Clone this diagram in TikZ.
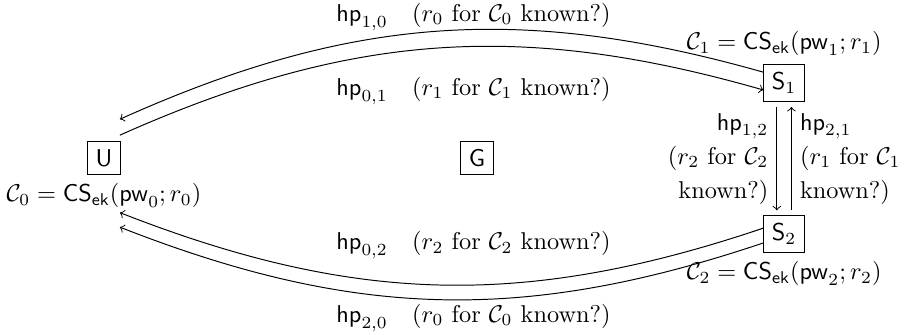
\documentclass[tikz,border=0pt]{standalone}
\usepackage{amsmath}
\usetikzlibrary{positioning}

\tikzset{party/.style={draw, inner sep=3.33pt}}

\begin{document}
\begin{tikzpicture}[>=to]
\useasboundingbox (-1.503,-2.558) rectangle (11.62,2.283);
% parties
\node[party] (U) at (0,0) {$\mathsf{U}$};
\node[party] (G) at (5.39,0) {$\mathsf{G}$};
\node[party] (S1) at (9.83,1.08) {$\mathsf{S}_1$};
\node[party] (S2) at (9.83,-1.1) {$\mathsf{S}_2$};
\node[below=0pt of U] (C0) {$\mathcal{C}_0 = \mathsf{CS}_{\mathsf{ek}}(\mathsf{pw}_0; r_0)$};
\node[above=0pt of S1] (C1) {$\mathcal{C}_1 = \mathsf{CS}_{\mathsf{ek}}(\mathsf{pw}_1; r_1)$};
\node[below=0pt of S2] (C2) {$\mathcal{C}_2 = \mathsf{CS}_{\mathsf{ek}}(\mathsf{pw}_2; r_2)$};
% free ends near U
\coordinate (u10) at (0.23,0.56);
\coordinate (u01) at (0.23,0.33);
\coordinate (u02) at (0.23,-0.79);
\coordinate (u20) at (0.23,-1.0);
% U -- S1
\draw[->] (S1.152) to[bend right=20] (u10);
\draw[->] (u01) to[bend left=20] (S1.198);
\node (hp10) at (5.34,2.04) {$\mathsf{hp}_{1,0}$\quad ($r_0$ for $\mathcal{C}_0$ known?)};
\node (hp01) at (5.34,0.97) {$\mathsf{hp}_{0,1}$\quad ($r_1$ for $\mathcal{C}_1$ known?)};
% U -- S2
\draw[->] (S2.164) to[bend left=20] (u02);
\draw[->] (S2.203) to[bend left=20] (u20);
\node (hp02) at (5.34,-1.26) {$\mathsf{hp}_{0,2}$\quad ($r_2$ for $\mathcal{C}_2$ known?)};
\node (hp20) at (5.34,-2.31) {$\mathsf{hp}_{2,0}$\quad ($r_0$ for $\mathcal{C}_0$ known?)};
% S1 -- S2
\draw[->, shorten >=2pt, shorten <=2pt] ([xshift=-3pt]S1.south) -- ([xshift=-3pt]S2.north)
  node[midway, left, align=right] (hp12) {$\mathsf{hp}_{1,2}$\\[2pt]($r_2$ for $\mathcal{C}_2$\\[2pt]known?)};
\draw[<-, shorten >=2pt, shorten <=2pt] ([xshift=3pt]S1.south) -- ([xshift=3pt]S2.north)
  node[midway, right, align=left] (hp21) {$\mathsf{hp}_{2,1}$\\[2pt]($r_1$ for $\mathcal{C}_1$\\[2pt]known?)};
\end{tikzpicture}
\end{document}
